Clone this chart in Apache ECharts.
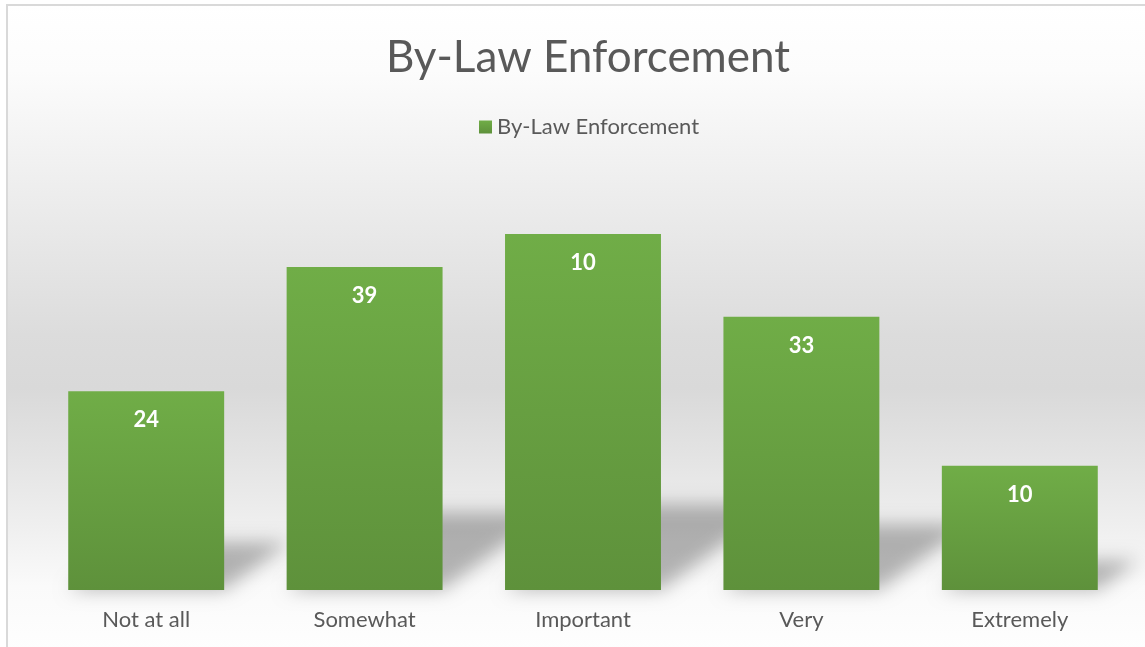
<!DOCTYPE html>
<html>
<head>
<meta charset="utf-8">
<style>
  html, body { margin: 0; padding: 0; background: #fff; }
  #chart { width: 1145px; height: 647px; }
</style>
<script src="https://cdn.jsdelivr.net/npm/echarts@6/dist/echarts.min.js"></script>
</head>
<body>
<div id="chart"></div>
<script>
const categories = ['Not at all', 'Somewhat', 'Important', 'Very', 'Extremely'];
const values = [24, 39, 43, 33, 15];
// labels as printed on the bars (they do not all match the bar heights)
const labelTexts = ['24', '39', '10', '33', '10'];
const seriesName = 'By-Law Enforcement';

const font = 'Lato, "Open Sans", sans-serif';
const textColor = '#595959';

const chart = echarts.init(document.getElementById('chart'));

const barGradient = new echarts.graphic.LinearGradient(0, 0, 0, 1, [
  { offset: 0, color: '#70ad47' },
  { offset: 1, color: '#5e913b' }
]);

// soft floor shadow behind each bar, skewed up and to the right.
// the shape is drawn off to the left so only its blurred shadow shows
const SHIFT = 3000;
function renderShadow(params, api) {
  const i = api.value(0);
  const base = api.coord([i, 0]);
  const top = api.coord([i, api.value(1) * 0.24]);
  const bw = api.size([1, 0])[0] * 0.714;
  const h = base[1] - top[1];
  const dx = h * 1.37;
  const x0 = base[0] - bw / 2 - SHIFT;
  const x1 = base[0] + bw / 2 - SHIFT;
  return {
    type: 'polygon',
    shape: {
      points: [
        [x0, base[1]], [x1, base[1]],
        [x1 + dx, base[1] - h], [x0 + dx, base[1] - h]
      ]
    },
    style: {
      fill: '#000',
      shadowBlur: 18,
      shadowOffsetX: SHIFT,
      shadowColor: 'rgba(0,0,0,0.28)'
    }
  };
}

chart.setOption({
  animation: false,
  graphic: [{
    type: 'rect',
    z: -10,
    shape: { x: 7, y: 5, width: 1160, height: 660 },
    style: {
      stroke: '#d9d9d9',
      lineWidth: 2,
      fill: new echarts.graphic.LinearGradient(0, 0, 0, 1, [
        { offset: 0, color: '#ffffff' },
        { offset: 0.1, color: '#fcfcfc' },
        { offset: 0.3, color: '#ececec' },
        { offset: 0.5, color: '#dcdcdc' },
        { offset: 0.58, color: '#d9d9d9' },
        { offset: 0.68, color: '#e3e3e3' },
        { offset: 0.78, color: '#eeeeee' },
        { offset: 0.88, color: '#fafafa' },
        { offset: 1, color: '#ffffff' }
      ])
    }
  }],
  title: {
    text: 'By-Law Enforcement',
    left: 583,
    textAlign: 'center',
    top: 31,
    textStyle: { fontFamily: font, fontSize: 44, fontWeight: 'normal', color: textColor }
  },
  legend: {
    data: [seriesName],
    top: 111,
    left: 474,
    icon: 'rect',
    itemWidth: 13,
    itemHeight: 13,
    itemGap: 6,
    textStyle: { fontFamily: font, fontSize: 22, color: textColor }
  },
  grid: { left: 37, right: 16, top: 176, bottom: 57 },
  xAxis: {
    type: 'category',
    data: categories,
    axisLine: { show: false },
    axisTick: { show: false },
    axisLabel: { margin: 19, fontFamily: font, fontSize: 22, color: textColor }
  },
  yAxis: {
    type: 'value',
    min: 0,
    max: 50,
    show: false
  },
  series: [{
    name: 'shadow',
    type: 'custom',
    z: 1,
    silent: true,
    renderItem: renderShadow,
    encode: { x: 0, y: 1 },
    data: values.map((v, i) => [i, v])
  }, {
    name: seriesName,
    type: 'bar',
    z: 2,
    barWidth: '71.4%',
    data: values,
    itemStyle: { color: barGradient },
    label: {
      show: true,
      position: 'insideTop',
      distance: 18,
      formatter: p => labelTexts[p.dataIndex],
      fontFamily: font,
      fontSize: 22,
      fontWeight: 'bold',
      color: '#ffffff'
    }
  }]
});
</script>
</body>
</html>
